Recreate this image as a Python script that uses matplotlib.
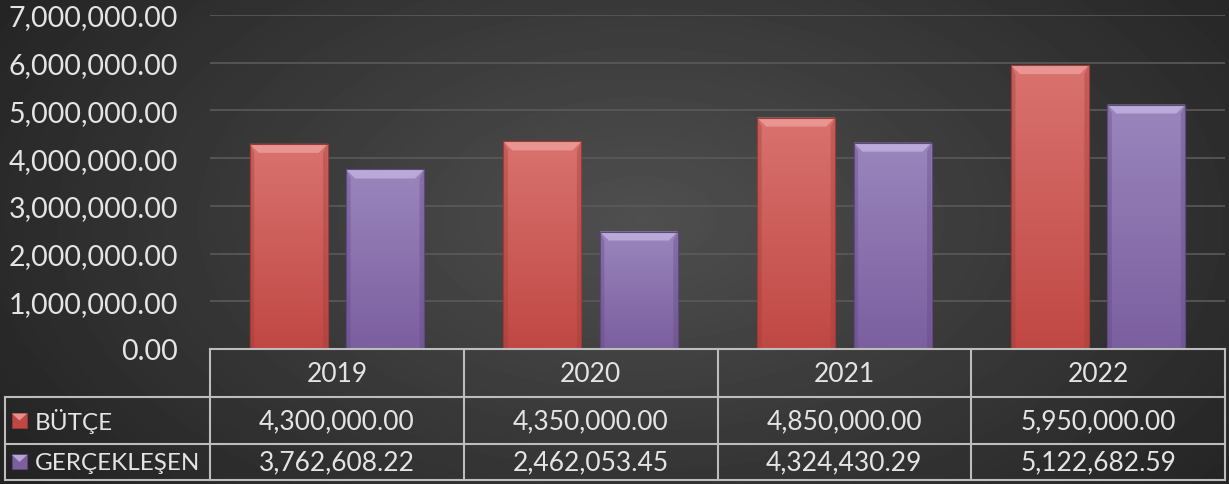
import numpy as np
import matplotlib.pyplot as plt
import matplotlib.transforms as mtransforms
from matplotlib.patches import Rectangle, Polygon
from matplotlib.lines import Line2D
from matplotlib.ticker import FuncFormatter
from matplotlib.colors import LinearSegmentedColormap

plt.rcParams['font.family'] = ['Lato', 'DejaVu Sans']

years = ['2019', '2020', '2021', '2022']
butce = [4300000.00, 4350000.00, 4850000.00, 5950000.00]
gerceklesen = [3762608.22, 2462053.45, 4324430.29, 5122682.59]
series_names = ['BÜTÇE', 'GERÇEKLEŞEN']
y_ticks = [0, 1000000, 2000000, 3000000, 4000000, 5000000, 6000000, 7000000]

W, H = 1229, 485
fig = plt.figure(figsize=(W / 100, H / 100), dpi=100)

# dark radial background
bg = fig.add_axes([0, 0, 1, 1])
bg.axis('off')
yy, xx = np.mgrid[0:H, 0:W]
r = np.sqrt(((xx - 640) / 760.0) ** 2 + ((yy - 220) / 430.0) ** 2)
shade = np.clip(0.31 - 0.17 * r, 0.1, 0.31)
bg.imshow(shade, cmap='gray', vmin=0, vmax=1, extent=[0, 1, 0, 1], aspect='auto')
bg.set_xlim(0, 1)
bg.set_ylim(0, 1)


def fx(px):
    return px / W


def fy(py):
    return 1 - py / H


ax = fig.add_axes([fx(210), fy(350), fx(1225) - fx(210), fy(16) - fy(350)])
ax.patch.set_alpha(0)
ax.set_xlim(-0.5, 3.5)
ax.set_ylim(0, 7000000)
ax.set_yticks(y_ticks)
ax.yaxis.set_major_formatter(FuncFormatter(lambda v, p: f'{v:,.2f}'))
ax.tick_params(axis='y', length=0, pad=23, labelsize=20.5, labelcolor='#e4e4e4')
ax.set_xticks([])
for s in ax.spines.values():
    s.set_visible(False)
ax.yaxis.grid(True, color='#5a5a5a', lw=1.2)
ax.set_axisbelow(True)

colors = [('#d9726e', '#c04844', '#f0a3a0', '#9c3a37'),
          ('#9a86bd', '#7b5f9f', '#c6b6e3', '#5f487f')]
width = 0.307
offsets = [-0.19, 0.19]
px_x = 1.0 / 254            # data units per pixel (x)
px_y = 7000000 / 334.0      # data units per pixel (y)

for k, vals in enumerate([butce, gerceklesen]):
    c_top, c_bot, c_hi, c_edge = colors[k]
    cm = LinearSegmentedColormap.from_list('g', [c_bot, c_top])
    bars = ax.bar(np.arange(len(years)) + offsets[k], vals, width,
                  color=c_bot, edgecolor=c_edge, lw=0.8, zorder=2)
    for b in bars:
        x0, w, h = b.get_x(), b.get_width(), b.get_height()
        grad = np.linspace(0, 1, 100).reshape(-1, 1)
        im = ax.imshow(grad, cmap=cm, extent=[x0, x0 + w, 0, h], origin='lower',
                       aspect='auto', zorder=2.1)
        im.set_clip_path(b)
        dx = 9 * px_x
        dy = 9 * px_y
        ax.add_patch(Polygon([(x0, h), (x0 + w, h), (x0 + w - dx, h - dy), (x0 + dx, h - dy)],
                             closed=True, color=c_hi, alpha=0.75, lw=0, zorder=2.2))
        ax.add_patch(Polygon([(x0, 0), (x0 + dx * 0.5, 0), (x0 + dx * 0.5, h - dy), (x0, h)],
                             closed=True, color=c_edge, alpha=0.35, lw=0, zorder=2.2))
        ax.add_patch(Polygon([(x0 + w, 0), (x0 + w - dx * 0.5, 0), (x0 + w - dx * 0.5, h - dy), (x0 + w, h)],
                             closed=True, color=c_edge, alpha=0.35, lw=0, zorder=2.2))
        ax.add_patch(Rectangle((x0, 0), w, h, fill=False, ec=c_edge, lw=0.8, zorder=2.3))

ax.set_ylim(0, 7000000)
ax.set_xlim(-0.5, 3.5)

# data table
trans = mtransforms.blended_transform_factory(ax.transData, fig.transFigure)
line_c = '#bdbdbd'
row_y = [350, 398, 445, 481]
left_px = 5

for i, py in enumerate(row_y):
    x_start = fx(210) if i == 0 else fx(left_px)
    fig.add_artist(Line2D([x_start, fx(1225)], [fy(py), fy(py)], color=line_c, lw=1.5,
                          transform=fig.transFigure))
fig.add_artist(Line2D([fx(left_px), fx(left_px)], [fy(398), fy(481)], color=line_c, lw=1.5,
                      transform=fig.transFigure))
for b in np.arange(len(years) + 1) - 0.5:
    fig.add_artist(Line2D([b, b], [fy(350), fy(481)], color=line_c, lw=1.5, transform=trans))

txt_c = '#e4e4e4'
fs = 19
for i, yr in enumerate(years):
    fig.text(i, fy(374), yr, transform=trans, ha='center', va='center', fontsize=fs, color=txt_c)
    fig.text(i, fy(421.5), f'{butce[i]:,.2f}', transform=trans, ha='center', va='center',
             fontsize=fs, color=txt_c)
    fig.text(i, fy(463), f'{gerceklesen[i]:,.2f}', transform=trans, ha='center', va='center',
             fontsize=fs, color=txt_c)

for k, (name, py) in enumerate(zip(series_names, [421.5, 463])):
    c_top, c_bot, c_hi, c_edge = colors[k]
    fig.add_artist(Rectangle((fx(12), fy(py + 7)), fx(15), fy(0) - fy(15), color=c_bot,
                             ec=c_edge, lw=0.5, transform=fig.transFigure))
    fig.add_artist(Polygon([(fx(12), fy(py - 7)), (fx(27), fy(py - 7)), (fx(19.5), fy(py))],
                           closed=True, color=c_hi, alpha=0.8, lw=0, transform=fig.transFigure))
    fig.text(fx(35), fy(py), name, ha='left', va='center', fontsize=17.5, color=txt_c)

fig.savefig('out.png', dpi=100)
